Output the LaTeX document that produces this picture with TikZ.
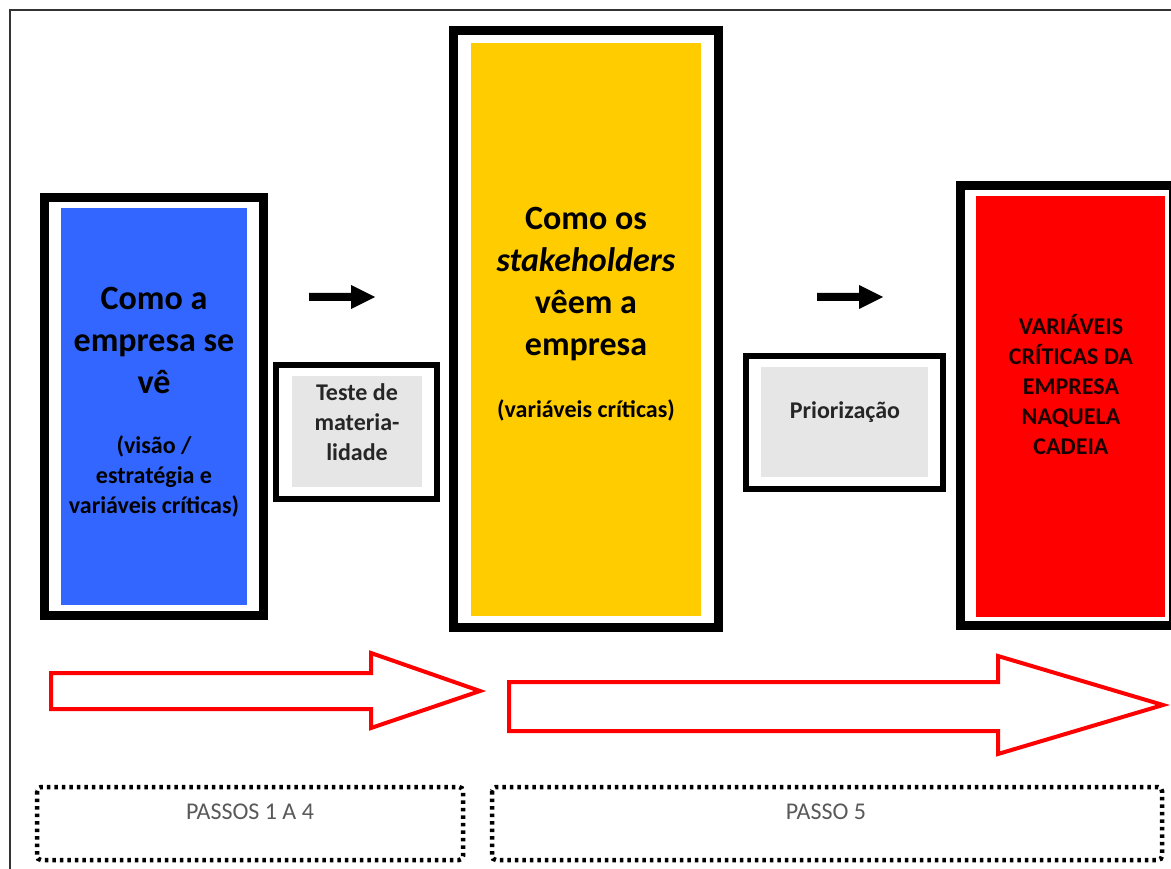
\documentclass[tikz,border=0pt]{standalone}
\usepackage{fontspec}
\setmainfont{Carlito}
\definecolor{boxblue}{HTML}{3366FF}
\definecolor{boxyellow}{HTML}{FFCC00}
\definecolor{boxred}{HTML}{FF0000}
\definecolor{boxgray}{HTML}{E6E6E6}
\definecolor{framegray}{HTML}{333333}
\definecolor{labelgray}{HTML}{595959}
\definecolor{redtext}{HTML}{1A0000}
\tikzset{
  outerframe/.style={draw=black, line width=9pt},
  smallframe/.style={draw=black, line width=6pt},
  bigarrow/.style={draw=boxred, line width=4pt, line join=miter, fill=white},
  smallarrow/.style={fill=black, draw=none},
  dotbox/.style={draw=black, line width=4.5pt, dash pattern=on 3.5pt off 4pt, rounded corners=4pt},
  bigtxt/.style={font=\bfseries\fontsize{34}{42}\selectfont, align=center, text=black},
  midtxt/.style={font=\bfseries\fontsize{24}{30}\selectfont, align=center, text=black},
  lbl/.style={font=\fontsize{24}{28}\selectfont, text=labelgray}
}
\begin{document}
\begin{tikzpicture}[x=1pt,y=-1pt]
\useasboundingbox (0,0) rectangle (1171,869);
\fill[white] (0,0) rectangle (1171,869);
% page frame (top and left)
\draw[framegray, line width=2pt] (10,869) -- (10,10) -- (1171,10);

% blue box
\draw[outerframe] (44.5,197.5) rectangle (263.5,615.5);
\fill[boxblue] (61,208) rectangle (247,605);
\node[bigtxt] (blue1) at (154,340) {Como a\\empresa se\\vê};
\node[midtxt] (blue2) at (154,476) {(visão /\\estratégia e\\variáveis críticas)};

% arrow 1
\fill[smallarrow] (309,293) -- (351,293) -- (351,285) -- (375,297) -- (351,309) -- (351,301) -- (309,301) -- cycle;

% teste box
\draw[smallframe] (276,365) rectangle (437,499);
\fill[boxgray] (292,376) rectangle (422,487);
\node[midtxt, text=black!85] (teste) at (357,422) {Teste de\\materia-\\lidade};

% yellow box
\draw[outerframe] (453.5,30.5) rectangle (718.5,627.5);
\fill[boxyellow] (471,43) rectangle (701,616);
\node[bigtxt] (yel1) at (586,284) {Como os\\\textit{stakeholders}\\vêem a\\empresa};
\node[midtxt] (yel2) at (586,410) {(variáveis críticas)};

% arrow 2
\fill[smallarrow] (817,293) -- (859,293) -- (859,285) -- (883,297) -- (859,309) -- (859,301) -- (817,301) -- cycle;

% priorizacao box
\draw[smallframe] (746,356) rectangle (943,489);
\fill[boxgray] (761,367) rectangle (928,477);
\node[midtxt, text=black!85] (prior) at (845,412) {Priorização};

% red box
\draw[outerframe] (960.5,185.5) rectangle (1173.5,625.5);
\fill[boxred] (976,196) rectangle (1165,617);
\node[midtxt, text=redtext] (red1) at (1071,385) {VARIÁVEIS\\CRÍTICAS DA\\EMPRESA\\NAQUELA\\CADEIA};

% big red arrows
\draw[bigarrow] (51,673) -- (371,673) -- (371,653) -- (480,691) -- (371,728) -- (371,709) -- (51,709) -- cycle;
\draw[bigarrow] (509,682) -- (998,682) -- (998,656) -- (1163,705) -- (998,754) -- (998,731) -- (509,731) -- cycle;

% dotted step boxes
\draw[dotbox] (37,787) rectangle (463,860);
\node[lbl] (p14) at (250,812) {PASSOS 1 A 4};
\draw[dotbox] (492,787) rectangle (1162,860);
\node[lbl] (p5) at (826,812) {PASSO 5};
\end{tikzpicture}
\end{document}
